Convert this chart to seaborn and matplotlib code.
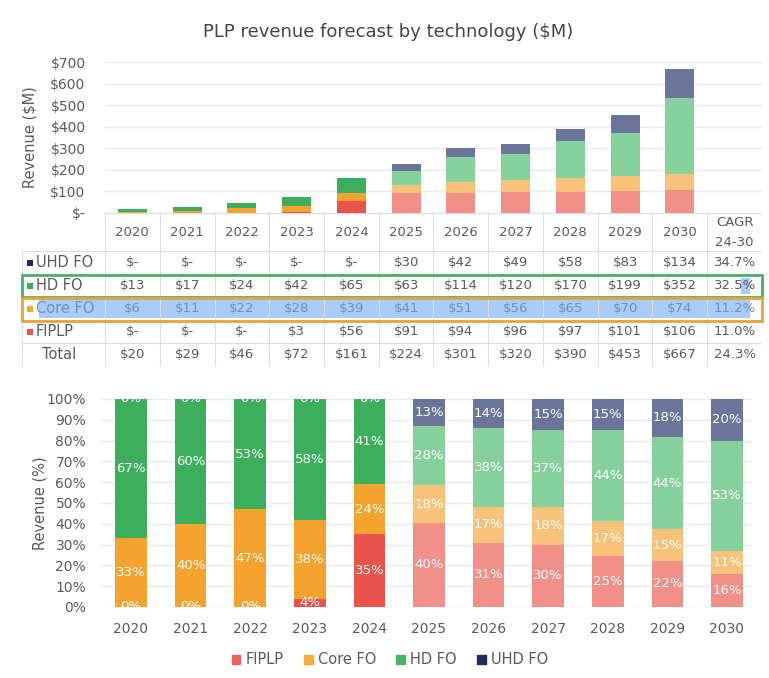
import matplotlib
matplotlib.use("Agg")
import matplotlib.pyplot as plt
from matplotlib.patches import Rectangle
import numpy as np
import seaborn as sns

years = ["2020", "2021", "2022", "2023", "2024", "2025",
         "2026", "2027", "2028", "2029", "2030"]

# revenue in $M (table values)
uhd_fo = [0, 0, 0, 0, 0, 30, 42, 49, 58, 83, 134]
hd_fo = [13, 17, 24, 42, 65, 63, 114, 120, 170, 199, 352]
core_fo = [6, 11, 22, 28, 39, 41, 51, 56, 65, 70, 74]
fiplp = [0, 0, 0, 3, 56, 91, 94, 96, 97, 101, 106]
total = [20, 29, 46, 72, 161, 224, 301, 320, 390, 453, 667]
cagr = ["34.7%", "32.5%", "11.2%", "11.0%", "24.3%"]

# revenue share in % (bar labels of lower chart)
share_uhd = [0, 0, 0, 0, 0, 13, 14, 15, 15, 18, 20]
share_hd = [67, 60, 53, 58, 41, 28, 38, 37, 44, 44, 53]
share_core = [33, 40, 47, 38, 24, 18, 17, 18, 17, 15, 11]
share_fiplp = [0, 0, 0, 4, 35, 40, 31, 30, 25, 22, 16]

n_actual = 5

dark = {"FIPLP": "#E8534B", "Core FO": "#F5A22F", "HD FO": "#3DAE5B", "UHD FO": "#1F2B5E"}
light = {"FIPLP": "#F19089", "Core FO": "#F9C27A", "HD FO": "#86D09B", "UHD FO": "#6B7599"}

sns.set_theme(style="white")
plt.rcParams["font.family"] = ["DejaVu Sans"]
txt = "#5A5A5A"
grid_c = "#EAEAEA"
line_c = "#D8DDE6"

W, H = 769, 678
fig = plt.figure(figsize=(W / 100, H / 100), dpi=100)


def fx(px):
    return px / W


def fy(py):
    return 1 - py / H


def stacked(ax, series, width):
    bottom = np.zeros(len(years))
    for name, vals in series:
        vals = np.asarray(vals, dtype=float)
        sns.barplot(x=years, y=vals, bottom=bottom, color=dark[name], width=width,
                    saturation=1, errorbar=None, ax=ax)
        for i, bar in enumerate(ax.patches[-len(years):]):
            bar.set_facecolor(dark[name] if i < n_actual else light[name])
            bar.set_edgecolor("none")
            bar.set_linewidth(0)
        bottom = bottom + vals
    return bottom


fig.text(fx(388), fy(32), "PLP revenue forecast by technology ($M)",
         ha="center", va="center", fontsize=13, color="#454545")

# ---- top chart: revenue in $M
ax1 = fig.add_axes([fx(105), fy(213), fx(762 - 105), (213 - 62) / H])
series_top = [("FIPLP", fiplp), ("Core FO", core_fo), ("HD FO", hd_fo), ("UHD FO", uhd_fo)]
stacked(ax1, series_top, 0.53)
ax1.set_xlim(-0.5, 11.5)
ax1.set_ylim(0, 700)
ax1.set_yticks(range(0, 701, 100))
ax1.set_yticklabels(["$-"] + [f"${v}" for v in range(100, 701, 100)])
ax1.set_xticks([])
ax1.set_xlabel("")
ax1.set_ylabel("")
ax1.grid(axis="y", color=grid_c, linewidth=1)
ax1.set_axisbelow(True)
ax1.tick_params(axis="y", length=0, labelsize=10, labelcolor=txt, pad=14)
for s in ax1.spines.values():
    s.set_visible(False)
fig.text(fx(30), fy(137), "Revenue ($M)", rotation=90, ha="center", va="center",
         fontsize=10.5, color=txt)

# ---- data table under the top chart
axt = fig.add_axes([fx(22), fy(366), fx(762 - 22), (366 - 213) / H])
colw = (762 - 105) / 12
x0 = -0.5 - (105 - 22) / colw
axt.set_xlim(x0, 11.5)
axt.set_ylim(366, 213)
axt.axis("off")

row_edges = [213, 251, 274, 297, 320, 343, 366]
for k, y in enumerate(row_edges):
    axt.plot([x0 if k > 0 else -0.5, 11.5], [y, y], color=line_c, lw=0.8)
for c in np.arange(-0.5, 11.6, 1.0):
    axt.plot([c, c], [213, 366], color=line_c, lw=0.8)
axt.plot([x0, x0], [251, 366], color=line_c, lw=0.8)

for i, yr in enumerate(years):
    axt.text(i, 232, yr, ha="center", va="center", fontsize=9.5, color=txt)
axt.text(11, 222, "CAGR", ha="center", va="center", fontsize=9.5, color=txt)
axt.text(11, 243, "24-30", ha="center", va="center", fontsize=9.5, color=txt)

# highlight boxes and selection
axt.add_patch(Rectangle((x0 + 17 / colw, 298.5), (750 - 39) / colw, 19,
                        facecolor="#A9CBF7", edgecolor="none", zorder=1))
axt.add_patch(Rectangle((11.5 - 21 / colw, 277.5), 9 / colw, 16,
                        facecolor="#A9CBF7", edgecolor="none", zorder=1))
axt.add_patch(Rectangle((x0, 274.5), 11.5 - x0, 22.5, facecolor="none",
                        edgecolor="#4CAF6A", lw=2, zorder=3, clip_on=False))
axt.add_patch(Rectangle((x0, 298), 11.5 - x0, 22.5, facecolor="none",
                        edgecolor="#E8A33A", lw=2, zorder=3, clip_on=False))

rows = [("UHD FO", uhd_fo, cagr[0]), ("HD FO", hd_fo, cagr[1]),
        ("Core FO", core_fo, cagr[2]), ("FIPLP", fiplp, cagr[3])]
row_y = [262.5, 285.5, 308.5, 331.5]
for (name, vals, cg), y in zip(rows, row_y):
    col = "#6D8FC7" if name == "Core FO" else txt
    axt.add_patch(Rectangle((x0 + 5 / colw, y - 3), 6 / colw, 6,
                            facecolor=dark[name], edgecolor="none", zorder=4))
    axt.text(x0 + 14 / colw, y, name, ha="left", va="center", fontsize=10.5,
             color=col, zorder=4)
    for i, v in enumerate(vals):
        axt.text(i, y, "$-" if v == 0 else f"${v}", ha="center", va="center",
                 fontsize=9.5, color=col, zorder=4)
    axt.text(11, y, cg, ha="center", va="center", fontsize=9.5, color=col, zorder=4)
axt.text(x0 + 20 / colw, 354.5, "Total", ha="left", va="center", fontsize=10.5, color=txt)
for i, v in enumerate(total):
    axt.text(i, 354.5, f"${v}", ha="center", va="center", fontsize=9.5, color=txt)
axt.text(11, 354.5, cagr[4], ha="center", va="center", fontsize=9.5, color=txt)

# ---- bottom chart: revenue share in %
ax2 = fig.add_axes([fx(100), fy(607), fx(752 - 100), (607 - 399) / H])
shares = [("FIPLP", share_fiplp), ("Core FO", share_core),
          ("HD FO", share_hd), ("UHD FO", share_uhd)]
sums = np.sum([s for _, s in shares], axis=0)
norm = [(n, np.asarray(s, float) * 100 / sums) for n, s in shares]
stacked(ax2, norm, 0.53)
base = np.zeros(len(years))
for (name, raw), (_, h) in zip(shares, norm):
    for i in range(len(years)):
        if raw[i] == 0 and i >= n_actual:
            continue
        ax2.text(i, base[i] + h[i] / 2, f"{raw[i]}%", ha="center", va="center",
                 fontsize=9.5, color="white", zorder=5)
    base = base + h
ax2.set_xlim(-0.52, 10.42)
ax2.set_ylim(0, 100)
ax2.set_yticks(range(0, 101, 10))
ax2.set_yticklabels([f"{v}%" for v in range(0, 101, 10)])
ax2.set_xlabel("")
ax2.set_ylabel("")
ax2.grid(axis="y", color=grid_c, linewidth=1)
ax2.set_axisbelow(True)
ax2.tick_params(axis="y", length=0, labelsize=10, labelcolor=txt, pad=10)
ax2.tick_params(axis="x", length=0, labelsize=10, labelcolor=txt, pad=11)
for s in ax2.spines.values():
    s.set_visible(False)
fig.text(fx(40), fy(503), "Revenue (%)", rotation=90, ha="center", va="center",
         fontsize=10.5, color=txt)

handles = [Rectangle((0, 0), 1, 1, color=c) for c in
           ["#E8635D", "#F5AE3A", "#4CAF6A", "#1F2B5E"]]
fig.legend(handles, ["FIPLP", "Core FO", "HD FO", "UHD FO"], loc="center",
           bbox_to_anchor=(fx(390), fy(660)), ncol=4, frameon=False,
           handlelength=0.6, handleheight=0.6, handletextpad=0.35,
           columnspacing=1.4, labelcolor=txt, fontsize=10.5)

fig.savefig("out.png", dpi=100)
